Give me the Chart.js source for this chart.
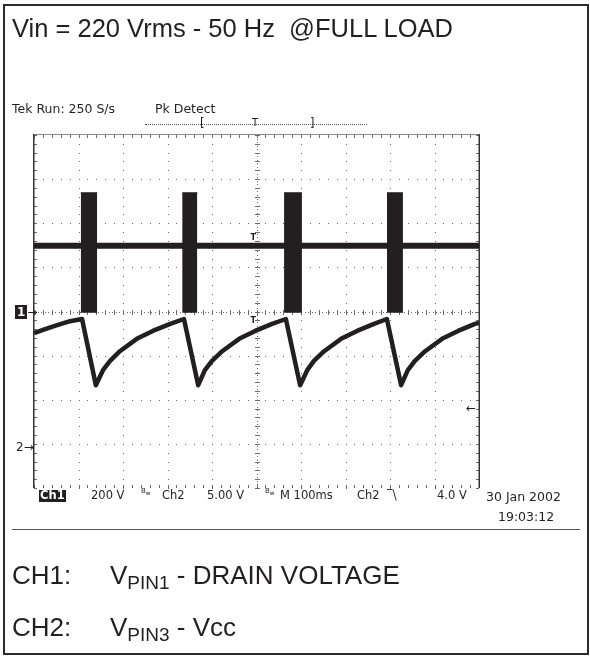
<!DOCTYPE html>
<html><head><meta charset="utf-8">
<script src="https://cdn.jsdelivr.net/npm/chart.js@4.4.1/dist/chart.umd.min.js"></script>
<style>
html,body{margin:0;padding:0;background:#fff;}
#wrap{position:relative;width:590px;height:657px;overflow:hidden;background:#fff;}
#frame{position:absolute;left:3px;top:4px;width:582px;height:647px;border:2px solid #2b2b2b;}
canvas{position:absolute;left:0;top:0;}
.t{position:absolute;white-space:pre;line-height:1;color:#231f20;}
.big{font-family:"Liberation Sans",Arial,sans-serif;}
.tek{font-family:"DejaVu Sans",sans-serif;font-size:11.5px;}
.sm{font-family:"DejaVu Sans",sans-serif;font-size:7px;}
#sep{position:absolute;left:12px;top:529px;width:568px;height:0;border-top:1.5px solid #555;}
#rec{position:absolute;left:145px;top:124px;width:222px;height:0;border-top:1px dotted #555;}
</style></head><body>
<div id="wrap">
<div id="frame"></div>
<canvas id="c" width="590" height="657"></canvas>
<div class="t big" style="left:12px;top:16px;font-size:25.5px;">Vin = 220 Vrms - 50 Hz  @FULL LOAD</div>
<div class="t tek" style="left:12px;top:103px;font-size:12.5px;">Tek Run: 250 S/s</div>
<div class="t tek" style="left:155px;top:103px;font-size:12.5px;">Pk Detect</div>
<div id="rec"></div>
<div class="t tek" style="left:200px;top:118px;">[</div>
<div class="t tek" style="left:252px;top:118px;font-size:10px;">T</div>
<div class="t tek" style="left:310px;top:118px;">]</div>
<div class="t tek" style="left:39px;top:490px;background:#231f20;color:#fff;font-weight:bold;padding:0 1px;">Ch1</div>
<div class="t tek" style="left:91px;top:490px;">200 V</div>
<div class="t sm" style="left:141px;top:488px;">B<sub>w</sub></div>
<div class="t tek" style="left:162px;top:490px;">Ch2</div>
<div class="t tek" style="left:207px;top:490px;">5.00 V</div>
<div class="t sm" style="left:265px;top:488px;">B<sub>w</sub></div>
<div class="t tek" style="left:280px;top:490px;">M 100ms</div>
<div class="t tek" style="left:357px;top:490px;">Ch2</div>
<div class="t tek" style="left:387px;top:490px;">‾\</div>
<div class="t tek" style="left:437px;top:490px;">4.0 V</div>
<div class="t tek" style="left:486px;top:491px;font-size:12.5px;">30 Jan 2002</div>
<div class="t tek" style="left:498px;top:511px;font-size:12.5px;">19:03:12</div>
<div id="sep"></div>
<div class="t big" style="left:12px;top:562px;font-size:26px;">CH1:</div>
<div class="t big" style="left:110px;top:562px;font-size:26px;">V<span style="font-size:19px;position:relative;top:5px;">PIN1</span> - DRAIN VOLTAGE</div>
<div class="t big" style="left:12px;top:614px;font-size:26px;">CH2:</div>
<div class="t big" style="left:110px;top:614px;font-size:26px;">V<span style="font-size:19px;position:relative;top:5px;">PIN3</span> - Vcc</div>
</div>
<script>
// Time base: 100 ms/div, 10 divisions. Vertical: 8 divisions (-4..4), values in divisions.
const xMin = 0, xMax = 1000;
const yMin = -4, yMax = 4;

// CH1 trace (ms, divisions)
const ch1Time = [0,25,52,81,108,
  139,155,171,193,231,267,306,337,
  369,384,400,423,461,497,535,566,
  598,614,629,652,690,726,764,793,
  825,840,856,879,917,953,991,1000];
const ch1Div = [-0.49,-0.40,-0.31,-0.22,-0.17,
  -1.67,-1.33,-1.12,-0.90,-0.62,-0.44,-0.28,-0.17,
  -1.67,-1.33,-1.12,-0.90,-0.62,-0.44,-0.28,-0.17,
  -1.67,-1.33,-1.12,-0.90,-0.62,-0.44,-0.28,-0.17,
  -1.67,-1.33,-1.12,-0.90,-0.62,-0.44,-0.28,-0.26];

// CH2 trace: steady level plus switching bursts
const ch2Time = [0, 1000];
const ch2Div = [1.49, 1.49];
const burstStart = [105, 333, 562, 793];
const burstEnd = [142, 367, 602, 829];
const burstTop = [2.69, 2.69, 2.69, 2.69];
const burstBottom = [-0.03, -0.03, -0.03, -0.03];

// Reference markers (divisions)
const ch1Ref = 0;
const ch2Ref = -3.07;
const trigLevel = -2.19;
const trigTime = 500;

const ink = '#231f20';

const datasets = [];
datasets.push({
  label: 'CH2',
  data: ch2Time.map((t, i) => ({x: t, y: ch2Div[i]})),
  borderColor: ink, borderWidth: 6, pointRadius: 0, fill: false, tension: 0
});
burstStart.forEach((s, i) => {
  datasets.push({
    label: 'CH2 burst ' + (i + 1),
    data: [{x: s, y: burstTop[i]}, {x: burstEnd[i], y: burstTop[i]}],
    borderColor: ink, borderWidth: 1, backgroundColor: ink,
    pointRadius: 0, fill: {value: burstBottom[i]}, tension: 0
  });
});
datasets.push({
  label: 'CH1',
  data: ch1Time.map((t, i) => ({x: t, y: ch1Div[i]})),
  borderColor: ink, borderWidth: 4.5, pointRadius: 0, fill: false, tension: 0,
  borderJoinStyle: 'round', borderCapStyle: 'butt'
});

const graticule = {
  id: 'graticule',
  beforeDatasetsDraw(chart) {
    const {ctx, chartArea: a, scales: {x, y}} = chart;
    ctx.save();
    ctx.fillStyle = '#6a6a6a';
    const dot = (px, py, w = 1, h = 1) => ctx.fillRect(Math.round(px), Math.round(py), w, h);
    for (let i = 1; i < 10; i++) {
      if (i === 5) continue;
      const px = x.getPixelForValue(i * 100);
      for (let j = 0; j <= 40; j++) dot(px, y.getPixelForValue(-4 + j * 0.2));
    }
    for (let j = 1; j < 8; j++) {
      if (j === 4) continue;
      const py = y.getPixelForValue(-4 + j);
      for (let i = 0; i <= 50; i++) dot(x.getPixelForValue(i * 20), py);
    }
    const cx = x.getPixelForValue(500), cy = y.getPixelForValue(0);
    for (let j = 0; j <= 100; j++) dot(cx, y.getPixelForValue(-4 + j * 0.08));
    for (let i = 0; i <= 125; i++) dot(x.getPixelForValue(i * 8), cy);
    for (let j = 0; j <= 40; j++) dot(cx - 2, y.getPixelForValue(-4 + j * 0.2), 5, 1);
    for (let i = 0; i <= 50; i++) dot(x.getPixelForValue(i * 20), cy - 2, 1, 5);
    for (let i = 0; i <= 50; i++) {
      const px = x.getPixelForValue(i * 20);
      dot(px, a.top, 1, 3);
      dot(px, a.bottom - 3, 1, 3);
    }
    for (let j = 0; j <= 40; j++) {
      const py = y.getPixelForValue(-4 + j * 0.2);
      dot(a.left, py, 3, 1);
      dot(a.right - 3, py, 3, 1);
    }
    ctx.fillStyle = '#8a8a8a';
    ctx.fillRect(a.left, a.top - 1, a.right - a.left, 1);
    ctx.fillStyle = '#333';
    ctx.fillRect(a.left - 1, a.top - 1, 1.5, a.bottom - a.top + 1);
    ctx.fillRect(a.right - 0.5, a.top - 1, 1.5, a.bottom - a.top + 1);
    ctx.restore();
  }
};

const chart = new Chart(document.getElementById('c'), {
  type: 'line',
  data: {datasets},
  options: {
    responsive: false, animation: false, devicePixelRatio: 1,
    layout: {padding: {left: 34, top: 135, right: 111, bottom: 169}},
    plugins: {legend: {display: false}, tooltip: {enabled: false}},
    scales: {
      x: {type: 'linear', min: xMin, max: xMax, display: false},
      y: {type: 'linear', min: yMin, max: yMax, display: false}
    }
  },
  plugins: [graticule]
});

const wrap = document.getElementById('wrap');
function addMarker(html, left, top, style) {
  const d = document.createElement('div');
  d.className = 't tek';
  d.innerHTML = html;
  d.style.left = left + 'px';
  d.style.top = top + 'px';
  if (style) d.style.cssText += style;
  wrap.appendChild(d);
}
const xs = chart.scales.x, ys = chart.scales.y;
const ca = chart.chartArea;
addMarker('<span style="background:#231f20;color:#fff;font-weight:bold;padding:0 2px;">1</span>→', ca.left - 19, ys.getPixelForValue(ch1Ref) - 6, 'font-size:12px;');
addMarker('2→', ca.left - 18, ys.getPixelForValue(ch2Ref) - 6, 'font-size:12px;');
addMarker('←', ca.right - 13, ys.getPixelForValue(trigLevel) - 6, 'font-size:12px;');
addMarker('T', xs.getPixelForValue(trigTime) - 6, ys.getPixelForValue(ch2Div[0]) - 12, 'font-size:8px;font-weight:bold;');
addMarker('T', xs.getPixelForValue(trigTime) - 6, ys.getPixelForValue(ch1Ref) + 5, 'font-size:8px;font-weight:bold;');
</script>
</body></html>
